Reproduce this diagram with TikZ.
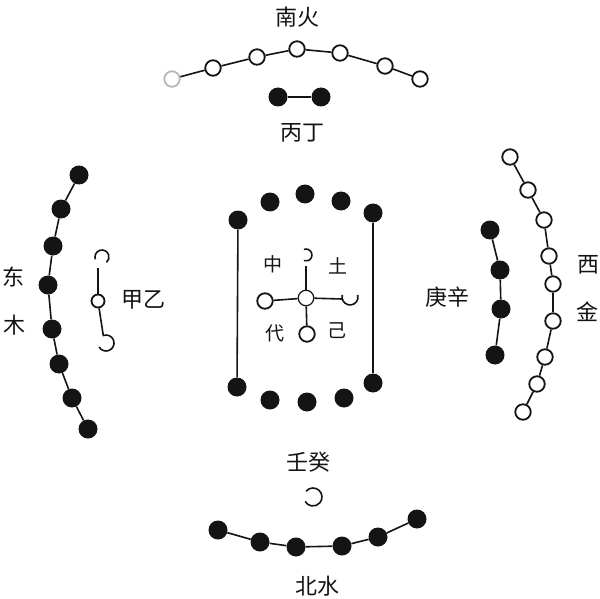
\documentclass[tikz,border=0pt]{standalone}
\usepackage{fontspec}
\usepackage{xcolor}
\usepackage{tikz}
\usetikzlibrary{positioning}
\newfontfamily\cjk{Noto Sans CJK SC}
\definecolor{PrintInk}{HTML}{141414}
\definecolor{PrintFade}{HTML}{B8B8B8}

\tikzset{
  yang/.style={circle,draw=PrintInk,line width=1.8pt,fill=white,minimum size=15.5pt,inner sep=0pt},
  yin/.style={circle,fill=PrintInk,minimum size=19pt,inner sep=0pt},
  link/.style={draw=PrintInk,line width=1.6pt},
  guatext/.style={font=\cjk\fontsize{22}{22}\selectfont,text=PrintInk,inner sep=0pt},
  gansmall/.style={font=\cjk\fontsize{19}{19}\selectfont,text=PrintInk,inner sep=0pt},
}

\begin{document}
\begin{tikzpicture}[x=1pt,y=1pt]
\useasboundingbox[fill=white] (0,0) rectangle (600,-599);

% south: fire
\node[guatext] (nanhuo) at (297,-17) {南火};
\node[yang,draw=PrintFade] (huo0) at (172,-79) {};
\foreach \x/\y [count=\i] in {213/-68,257/-57,297/-49,340/-53,385/-66,420/-79}
  \node[yang] (huo\i) at (\x,\y) {};
\foreach \a/\b in {1/2,2/3,3/4,4/5,5/6}
  \draw[link] (huo\a) -- (huo\b);
\draw[link] (huo0) -- (huo1);
\node[yin] (bing) at (278,-97) {};
\node[yin] (ding) at (321,-97) {};
\draw[link] (bing) -- (ding);
\node[guatext] (bingding) at (302,-133) {丙丁};

% east: wood
\node[guatext] (dong) at (13,-277) {东};
\node[guatext] (mu) at (15,-325) {木};
\foreach \x/\y [count=\i] in {79/-175,61/-209,53/-246,48/-285,52/-329,59/-364,72/-398,88/-429}
  \node[yin] (mu\i) at (\x,\y) {};
\foreach \a/\b in {1/2,2/3,3/4,4/5,5/6,6/7,7/8}
  \draw[link] (mu\a) -- (mu\b);
\node[yang,minimum size=13pt] (jia) at (98,-301) {};
\coordinate (jiaTop) at (98,-268);
\coordinate (yiBot) at (103.3,-335.5);
\draw[link] (95.4,-259.4) arc[start angle=200,end angle=-50,radius=7];
\draw[link] (jiaTop) -- (jia);
\draw[link] (jia) -- (yiBot) arc[start angle=110,end angle=-150,radius=8];
\node[guatext] (jiayi) at (143,-300) {甲乙};

% centre: earth
\foreach \x/\y [count=\i] in {270/-202,305/-194,341/-201}
  \node[yin] (tuN\i) at (\x,\y) {};
\foreach \x/\y [count=\i] in {270/-400,307/-402,344/-398}
  \node[yin] (tuS\i) at (\x,\y) {};
\node[yin] (tuNW) at (238,-220) {};
\node[yin] (tuNE) at (373,-213) {};
\node[yin] (tuSW) at (237,-387) {};
\node[yin] (tuSE) at (373,-383) {};
\draw[link] (tuNW) -- (tuSW);
\draw[link] (tuNE) -- (tuSE);
\node[yang,line width=1.2pt] (cen) at (306,-298) {};
\node[yang] (wuW) at (265,-301) {};
\node[yang] (wuS) at (307,-334) {};
\coordinate (tuTop) at (306,-266);
\coordinate (jiE) at (342,-299);
\draw[link] (303.9,-249.4) arc[start angle=110,end angle=-110,radius=6];
\draw[link] (tuTop) -- (cen);
\draw[link] (cen) -- (wuW);
\draw[link] (cen) -- (wuS);
\draw[link] (cen) -- (jiE);
\draw[link] (342.3,-294.9) arc[start angle=165,end angle=375,radius=8];
\node[gansmall] (zhong) at (273,-264) {中};
\node[gansmall] (tu) at (338,-266) {土};
\node[gansmall] (wu) at (275,-333) {代};
\node[gansmall] (ji) at (337,-331) {己};

% west: metal
\node[guatext] (xi) at (588,-265) {西};
\node[guatext] (jin) at (587,-312) {金};
\foreach \x/\y [count=\i] in {510/-157,528/-190,544/-220,549/-256,553/-284,553/-321,545/-357,537/-384,523/-412}
  \node[yang] (jin\i) at (\x,\y) {};
\foreach \a/\b in {1/2,2/3,3/4,4/5,5/6,6/7,7/8,8/9}
  \draw[link] (jin\a) -- (jin\b);
\foreach \x/\y [count=\i] in {490/-230,500/-270,501/-309,495/-355}
  \node[yin] (xin\i) at (\x,\y) {};
\foreach \a/\b in {1/2,2/3,3/4}
  \draw[link] (xin\a) -- (xin\b);
\node[guatext] (gengxin) at (447,-297) {庚辛};

% north: water
\node[guatext] (rengui) at (308,-462) {壬癸};
\draw[link] (306.1,-491.2) arc[start angle=140,end angle=-150,radius=9];
\foreach \x/\y [count=\i] in {218/-530,260/-542,296/-547,342/-546,378/-537,417/-519}
  \node[yin] (shui\i) at (\x,\y) {};
\foreach \a/\b in {1/2,2/3,3/4,4/5,5/6}
  \draw[link] (shui\a) -- (shui\b);
\node[guatext] (beishui) at (317,-586) {北水};
\end{tikzpicture}
\end{document}
